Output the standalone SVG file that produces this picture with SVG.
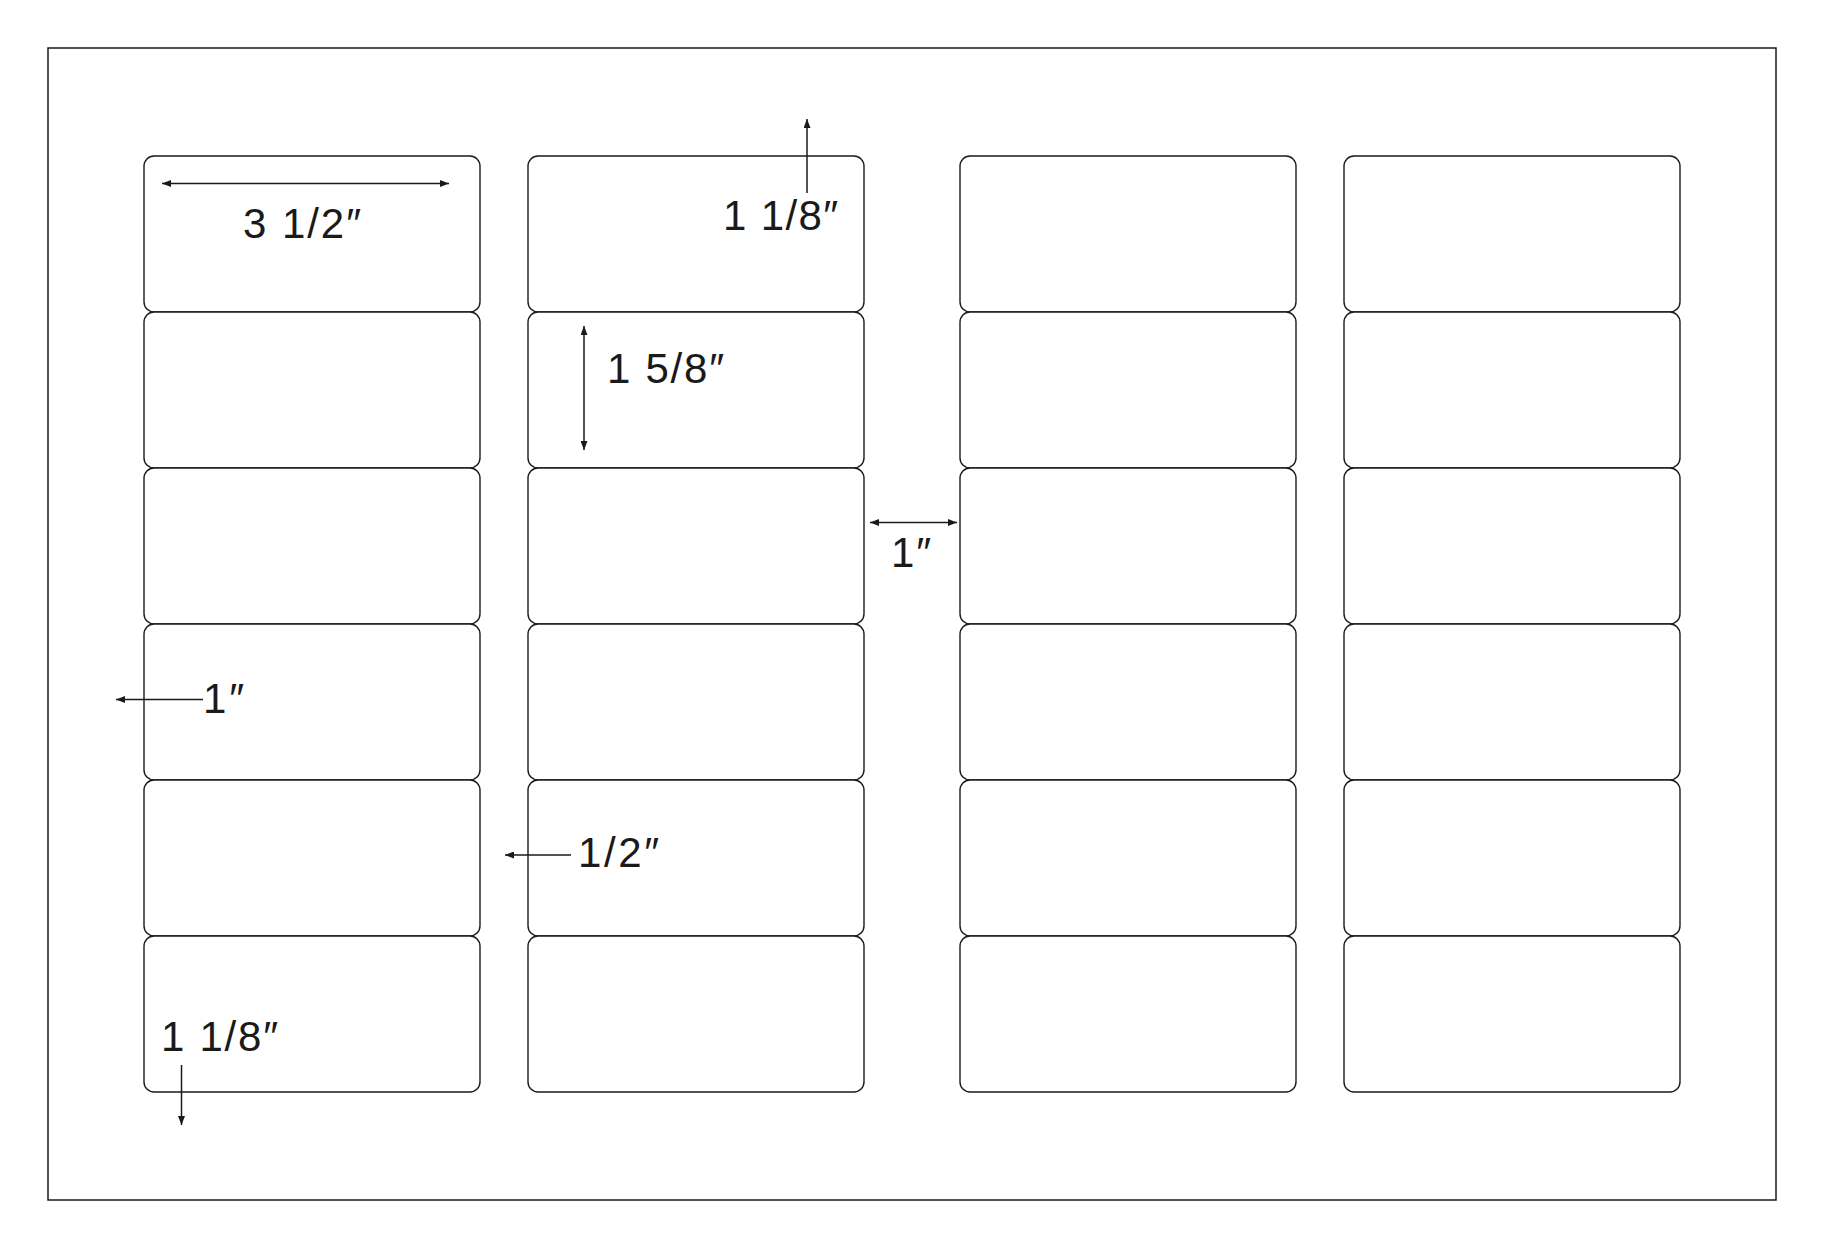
<svg xmlns="http://www.w3.org/2000/svg" width="1824" height="1248" viewBox="0 0 1824 1248">
<style>
.sheet{fill:#ffffff;stroke:#1a1a1a;stroke-width:1.5}
.lbl{fill:#ffffff;stroke:#1a1a1a;stroke-width:1.4}
.dim{fill:none;stroke:#1a1a1a;stroke-width:1.5}
.txt{font-family:"Liberation Sans","DejaVu Sans",Arial,sans-serif;font-size:42px;fill:#1a1a1a}
</style>
<defs>
<marker id="ah" viewBox="0 0 9 7" refX="9" refY="3.5" markerWidth="9" markerHeight="7" markerUnits="userSpaceOnUse" orient="auto-start-reverse">
<path d="M0,0 L9,3.5 L0,7 z" fill="#1a1a1a"/>
</marker>
</defs>
<rect width="1824" height="1248" fill="#ffffff"/>
<rect id="sheet" class="sheet" x="48" y="48" width="1728" height="1152"/>
<g id="labels">
<g id="label-r1c1"><rect class="lbl" x="144" y="156" width="336" height="156" rx="10"/></g>
<g id="label-r2c1"><rect class="lbl" x="144" y="312" width="336" height="156" rx="10"/></g>
<g id="label-r3c1"><rect class="lbl" x="144" y="468" width="336" height="156" rx="10"/></g>
<g id="label-r4c1"><rect class="lbl" x="144" y="624" width="336" height="156" rx="10"/></g>
<g id="label-r5c1"><rect class="lbl" x="144" y="780" width="336" height="156" rx="10"/></g>
<g id="label-r6c1"><rect class="lbl" x="144" y="936" width="336" height="156" rx="10"/></g>
<g id="label-r1c2"><rect class="lbl" x="528" y="156" width="336" height="156" rx="10"/></g>
<g id="label-r2c2"><rect class="lbl" x="528" y="312" width="336" height="156" rx="10"/></g>
<g id="label-r3c2"><rect class="lbl" x="528" y="468" width="336" height="156" rx="10"/></g>
<g id="label-r4c2"><rect class="lbl" x="528" y="624" width="336" height="156" rx="10"/></g>
<g id="label-r5c2"><rect class="lbl" x="528" y="780" width="336" height="156" rx="10"/></g>
<g id="label-r6c2"><rect class="lbl" x="528" y="936" width="336" height="156" rx="10"/></g>
<g id="label-r1c3"><rect class="lbl" x="960" y="156" width="336" height="156" rx="10"/></g>
<g id="label-r2c3"><rect class="lbl" x="960" y="312" width="336" height="156" rx="10"/></g>
<g id="label-r3c3"><rect class="lbl" x="960" y="468" width="336" height="156" rx="10"/></g>
<g id="label-r4c3"><rect class="lbl" x="960" y="624" width="336" height="156" rx="10"/></g>
<g id="label-r5c3"><rect class="lbl" x="960" y="780" width="336" height="156" rx="10"/></g>
<g id="label-r6c3"><rect class="lbl" x="960" y="936" width="336" height="156" rx="10"/></g>
<g id="label-r1c4"><rect class="lbl" x="1344" y="156" width="336" height="156" rx="10"/></g>
<g id="label-r2c4"><rect class="lbl" x="1344" y="312" width="336" height="156" rx="10"/></g>
<g id="label-r3c4"><rect class="lbl" x="1344" y="468" width="336" height="156" rx="10"/></g>
<g id="label-r4c4"><rect class="lbl" x="1344" y="624" width="336" height="156" rx="10"/></g>
<g id="label-r5c4"><rect class="lbl" x="1344" y="780" width="336" height="156" rx="10"/></g>
<g id="label-r6c4"><rect class="lbl" x="1344" y="936" width="336" height="156" rx="10"/></g>
</g>
<g id="connectors">
<line id="dim-width" class="dim" x1="162" y1="183.5" x2="449" y2="183.5" marker-start="url(#ah)" marker-end="url(#ah)"/>
<line id="dim-top" class="dim" x1="807" y1="193" x2="807" y2="119" marker-end="url(#ah)"/>
<line id="dim-height" class="dim" x1="584" y1="326" x2="584" y2="450" marker-start="url(#ah)" marker-end="url(#ah)"/>
<line id="dim-gap" class="dim" x1="870" y1="522.5" x2="957" y2="522.5" marker-start="url(#ah)" marker-end="url(#ah)"/>
<line id="dim-left" class="dim" x1="203" y1="699.5" x2="116" y2="699.5" marker-end="url(#ah)"/>
<line id="dim-half" class="dim" x1="571" y1="855" x2="505" y2="855" marker-end="url(#ah)"/>
<line id="dim-bottom" class="dim" x1="181.5" y1="1065" x2="181.5" y2="1125" marker-end="url(#ah)"/>
</g>
<g id="dimension-texts">
<text class="txt" x="243" y="238" textLength="118" lengthAdjust="spacing">3 1/2″</text>
<text class="txt" x="723" y="230" textLength="115" lengthAdjust="spacing">1 1/8″</text>
<text class="txt" x="607" y="383" textLength="117" lengthAdjust="spacing">1 5/8″</text>
<text class="txt" x="891" y="567" textLength="40" lengthAdjust="spacing">1″</text>
<text class="txt" x="203" y="713" textLength="41" lengthAdjust="spacing">1″</text>
<text class="txt" x="578" y="867" textLength="81" lengthAdjust="spacing">1/2″</text>
<text class="txt" x="161" y="1051" textLength="117" lengthAdjust="spacing">1 1/8″</text>
</g>
</svg>
